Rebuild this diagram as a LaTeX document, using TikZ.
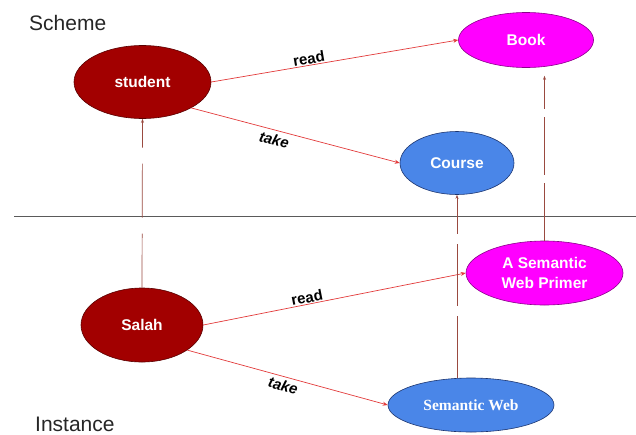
\documentclass[tikz,border=0pt]{standalone}
\usepackage{fontspec}
\setmainfont{Liberation Sans}
\newfontfamily\serifb{Liberation Serif}
\usetikzlibrary{shapes.geometric,arrows.meta}
\definecolor{cRed}{HTML}{A20000}
\definecolor{cRedD}{HTML}{5A0000}
\definecolor{cMag}{HTML}{FF00FF}
\definecolor{cMagD}{HTML}{8A008A}
\definecolor{cBlue}{HTML}{4A86E8}
\definecolor{cBlueD}{HTML}{1C3570}
\definecolor{cLine}{HTML}{E23A3A}
\definecolor{cInst}{HTML}{9A4A40}
\definecolor{cSep}{HTML}{5A5A5A}
\begin{document}
\begin{tikzpicture}[x=1pt,y=-1pt,
  ent/.style={ellipse, draw, line width=0.6pt, inner sep=0pt, text=white,
    font=\fontsize{15.5}{20}\selectfont\bfseries, align=center},
  rednode/.style={ent, fill=cRed, draw=cRedD},
  magnode/.style={ent, fill=cMag, draw=cMagD},
  bluenode/.style={ent, fill=cBlue, draw=cBlueD},
  rel/.style={draw=cLine, line width=0.7pt, -{Stealth[length=5pt,width=4pt]}},
  inst/.style={draw=cInst, line width=0.7pt, -{Stealth[length=4pt,width=3pt]}},
  lab/.style={font=\fontsize{15}{18}\selectfont\bfseries, text=black, sloped, inner sep=1pt},
  title/.style={font=\fontsize{21}{24}\selectfont, text=black!85, inner sep=0pt}
]
\useasboundingbox (0,0) rectangle (636,434);

% titles
\node[title, anchor=base west] (scheme) at (29,30) {Scheme};
\node[title, anchor=base west] (instance) at (35,431) {Instance};

% separator
\coordinate (sepL) at (14,216.5);
\coordinate (sepR) at (636,216.5);
\draw[cSep, line width=1.2pt] (sepL) -- (sepR);

% scheme nodes
\node[rednode, minimum width=137pt, minimum height=73pt] (student) at (142.5,82) {student};
\node[magnode, minimum width=135pt, minimum height=55pt] (book) at (526,40) {Book};
\node[bluenode, minimum width=114pt, minimum height=63pt] (course) at (457,163) {Course};

% instance nodes
\node[rednode, minimum width=122pt, minimum height=74pt] (salah) at (142,325) {Salah};
\node[magnode, minimum width=157pt, minimum height=64pt] (primer) at (544.5,273) {A Semantic\\Web Primer};
\node[bluenode, minimum width=166pt, minimum height=54pt, font=\serifb\fontsize{15.5}{19}\selectfont\bfseries] (semweb) at (471,405) {Semantic Web};

% relations
\draw[rel] (student.east) -- (book.west) node[lab, pos=0.40, above] {read};
\draw[rel] (student.-28) -- (course.west) node[lab, pos=0.41, below, inner sep=4pt] {\itshape take};
\draw[rel] (salah.east) -- (primer.west) node[lab, pos=0.40, above] {read};
\draw[rel] (salah.-29) -- (semweb.west) node[lab, pos=0.49, below, inner sep=3pt] {\itshape take};

% instance-of links
\draw[inst, dash pattern=on 54pt off 16pt] (salah.north) -- (student.south);
\draw[inst, dash pattern=on 62pt off 10pt] (course.south |- semweb.north) -- (course.south);
\draw[inst, dash pattern=on 58pt off 8pt, shorten >=8pt] (primer.north) -- (primer.north |- book.south);
\end{tikzpicture}
\end{document}
